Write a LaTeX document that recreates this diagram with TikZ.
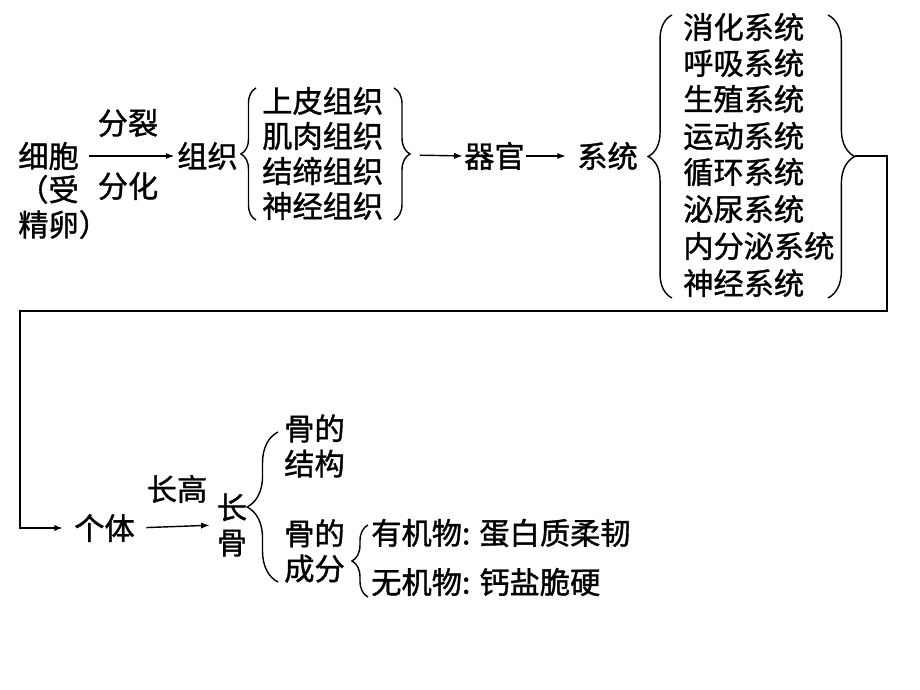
\documentclass[tikz,border=0pt]{standalone}
\usepackage{fontspec}
\setmainfont{Noto Sans CJK SC}[FakeBold=1.2]
\usetikzlibrary{arrows.meta,decorations.pathreplacing}

\tikzset{
	txt/.style={inner sep=0pt, font=\fontsize{21.5}{25}\selectfont},
	arr/.style={line width=1pt, -{Latex[length=6pt,width=4.5pt]}},
	brc/.style={line width=1pt, decorate, decoration={brace, amplitude=#1}},
}

\begin{document}
\begin{tikzpicture}[x=0.025cm, y=-0.025cm]
	\useasboundingbox (0,0) rectangle (920,690);
	
	\node[txt,anchor=west] (cell) at (18, 156)    {细胞};
	\node[txt,anchor=west,align=left] (egg) at (18, 207)    {（受\\精卵）};
	\node[txt] (split) at (128, 123)    {分裂};
	\node[txt] (diff) at (128, 186)    {分化};
	\node[txt,anchor=west] (tissue) at (177, 156)    {组织};
	
	\node[txt,anchor=west] (epi) at (262, 101)    {上皮组织};
	\node[txt,anchor=west] (muscle) at (262, 136)    {肌肉组织};
	\node[txt,anchor=west] (conn) at (262, 171)    {结缔组织};
	\node[txt,anchor=west] (nerveT) at (262, 206)    {神经组织};
	
	\node[txt,anchor=west] (organ) at (464, 156)    {器官};
	\node[txt,anchor=west] (system) at (577, 156)    {系统};
	
	\node[txt,anchor=west] (digest) at (683, 27)    {消化系统};
	\node[txt,anchor=west] (breath) at (683, 63)    {呼吸系统};
	\node[txt,anchor=west] (repro) at (683, 99)    {生殖系统};
	\node[txt,anchor=west] (motion) at (683, 136)    {运动系统};
	\node[txt,anchor=west] (circ) at (683, 172)    {循环系统};
	\node[txt,anchor=west] (urine) at (683, 209)    {泌尿系统};
	\node[txt,anchor=west] (endo) at (683, 246)    {内分泌系统};
	\node[txt,anchor=west] (nerveS) at (683, 283)    {神经系统};
	
	\node[txt,anchor=west] (body) at (74, 528)    {个体};
	\node[txt] (grow) at (177, 489)    {长高};
	\node[txt,align=center] (bone) at (232, 525)    {长\\骨};
	\node[txt,anchor=west,align=left] (struct) at (284, 446)    {骨的\\结构};
	\node[txt,anchor=west,align=left] (comp) at (284, 551)    {骨的\\成分};
	\node[txt,anchor=west] (organic) at (371, 533)    {有机物: 蛋白质柔韧};
	\node[txt,anchor=west] (inorg) at (371, 582)    {无机物: 钙盐脆硬};
	
	\coordinate (tisR) at (410, 155);
	\coordinate (sysR) at (855, 156);
	\coordinate (loopR) at (887, 311);
	\coordinate (loopL) at (20, 528);
	
	% braces
	\draw[brc=10.7pt] (256, 220) -- (256, 88);
	\draw[brc=11.4pt] (394, 88) -- (394, 220);
	\draw[brc=17pt] (672, 298) -- (672, 15);
	\draw[brc=19pt] (828, 15) -- (828, 298);
	\draw[brc=22pt] (278, 582) -- (278, 432);
	\draw[brc=11.4pt] (368, 597) -- (368, 525);
	
	\draw[arr, shorten <=7pt, shorten >=2pt] (cell.east) -- (tissue.west);
	\draw[arr, shorten <=7pt, shorten >=1pt] (tisR) -- (organ.west);
	\draw[arr, shorten <=1pt, shorten >=8pt] (organ.east) -- (system.west);
	\draw[arr, shorten >=8pt] (sysR) -| (loopR) -| (loopL) -- (body.west);
	\draw[arr, shorten <=8pt, shorten >=5pt] (body.east) -- (bone.west);
\end{tikzpicture}
\end{document}
